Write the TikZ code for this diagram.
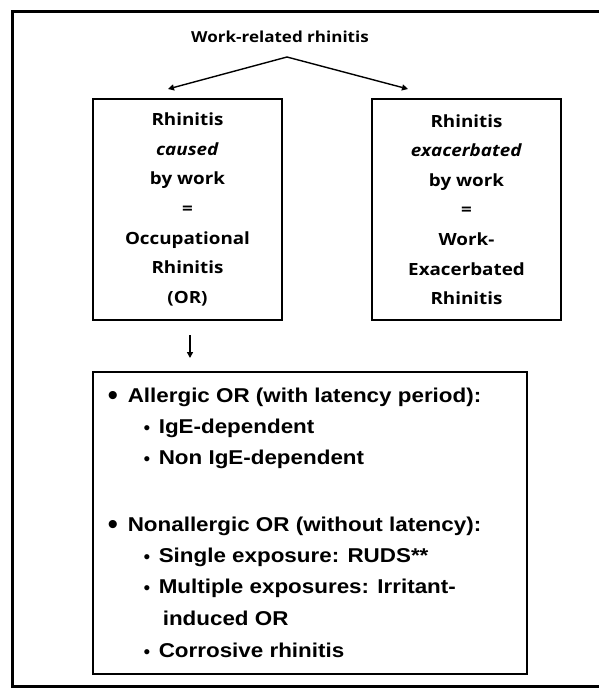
\documentclass[tikz,border=0pt]{standalone}
\usepackage{fontspec}
\setmainfont{Open Sans}
\newfontfamily\listfont{Liberation Sans}
\usetikzlibrary{arrows.meta,positioning}
\tikzset{
  casebox/.style={draw,line width=1.8pt,rectangle,xscale=1.12,minimum width=168.75pt,minimum height=221pt,align=center,inner sep=0pt,font=\bfseries\fontsize{16.8}{29.6}\selectfont},
  listbox/.style={draw,line width=1.8pt,rectangle,minimum width=434pt,minimum height=302pt,inner sep=0pt},
  listline/.style={anchor=base west,inner sep=0pt,xscale=1.12,font=\listfont\bfseries\fontsize{20}{24}\selectfont},
  mainpt/.style={anchor=base,inner sep=0pt,font=\listfont\fontsize{30}{32}\selectfont},
  subpt/.style={anchor=base,inner sep=0pt,font=\listfont\fontsize{19}{20}\selectfont}
}
\begin{document}
\begin{tikzpicture}[x=1pt,y=-1pt,>={Triangle[length=6pt,width=6pt]},line width=1.4pt]
  \useasboundingbox (0,0) rectangle (598,688);
  \draw[line width=3pt] (12,11) rectangle (660,686);

  \node[inner sep=0pt,xscale=1.12,font=\bfseries\fontsize{15.2}{20}\selectfont] (title) at (280,37) {Work-related rhinitis};
  \coordinate (fork) at (287,57);
  \coordinate (lhead) at (168,89);
  \coordinate (rhead) at (408,89);
  \draw[->] (fork) -- (lhead);
  \draw[->] (fork) -- (rhead);

  \node[casebox] (caused) at (187.5,209.5) {Rhinitis\\\textit{caused}\\by work\\=\\Occupational\\Rhinitis\\(OR)};
  \node[casebox] (exac) at (466.5,209.5) {Rhinitis\\\textit{exacerbated}\\by work\\=\\Work-\\Exacerbated\\Rhinitis};

  \coordinate (dtop) at (190,335);
  \coordinate (dbot) at (190,358);
  \draw[->,line width=1.8pt] (dtop) -- (dbot);

  \node[listbox] (types) at (310,523) {};

  \node[mainpt] (b1) at (113,405) {\textbullet};
  \node[listline] (allergic) at (127,402) {Allergic OR (with latency period):};
  \node[subpt] (b2) at (147,434) {\textbullet};
  \node[listline] (ige) at (158,433) {IgE-dependent};
  \node[subpt] (b3) at (147,465) {\textbullet};
  \node[listline] (nonige) at (158,464) {Non IgE-dependent};

  \node[mainpt] (b4) at (113,534) {\textbullet};
  \node[listline] (nonallergic) at (127,531) {Nonallergic OR (without latency):};
  \node[subpt] (b5) at (147,563) {\textbullet};
  \node[listline] (single) at (158,562) {Single exposure: RUDS**};
  \node[subpt] (b6) at (147,594) {\textbullet};
  \node[listline] (multiple) at (158,593) {Multiple exposures: Irritant-};
  \node[listline] (induced) at (162,625) {induced OR};
  \node[subpt] (b7) at (147,658) {\textbullet};
  \node[listline] (corrosive) at (158,657) {Corrosive rhinitis};
\end{tikzpicture}
\end{document}
